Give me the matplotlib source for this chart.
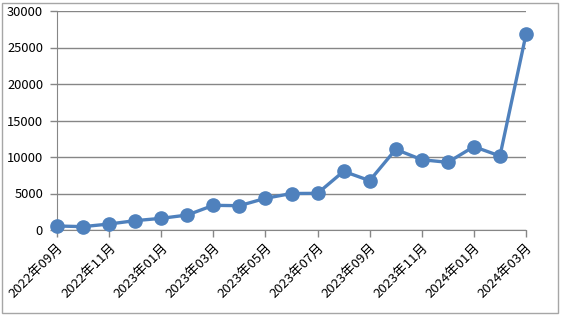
import matplotlib.pyplot as plt
from matplotlib.patches import Rectangle

plt.rcParams['font.family'] = ['Noto Sans CJK JP', 'DejaVu Sans']

## data: monthly values, 2022-09 .. 2024-03
months = ["2022年09月", "2022年10月", "2022年11月", "2022年12月",
          "2023年01月", "2023年02月", "2023年03月", "2023年04月",
          "2023年05月", "2023年06月", "2023年07月", "2023年08月",
          "2023年09月", "2023年10月", "2023年11月", "2023年12月",
          "2024年01月", "2024年02月", "2024年03月"]
values = [550, 460, 820, 1280, 1600, 2050, 3380, 3330, 4340, 5000,
          5020, 8040, 6760, 11050, 9630, 9270, 11420, 10140, 26800]
y_ticks = [0, 5000, 10000, 15000, 20000, 25000, 30000]

fig = plt.figure(figsize=(5.63, 3.16), dpi=100)
ax = fig.add_axes([57 / 563, 1 - 230 / 316, (526 - 57) / 563, (230 - 11) / 316])

x = list(range(len(months)))
ax.plot(x, values, color="#4f81bd", linewidth=2.4, marker="o",
        markersize=9.5, clip_on=False, zorder=3)

ax.set_xlim(0, len(months) - 1)
ax.set_ylim(0, 30000)
ax.set_yticks(y_ticks)
ax.set_yticklabels([str(v) for v in y_ticks], fontsize=9.3)
ax.set_xticks(x[::2])
ax.set_xticklabels(months[::2], rotation=45, ha="right", va="top",
                   rotation_mode="anchor", fontsize=9.5)

grid_col = "#868686"
ax.grid(axis="y", color=grid_col, linewidth=1)
ax.set_axisbelow(True)
for side in ["top", "right"]:
    ax.spines[side].set_visible(False)
ax.spines["left"].set_color(grid_col)
ax.spines["bottom"].set_color(grid_col)
ax.tick_params(axis="both", color=grid_col, length=5, width=1)
ax.tick_params(axis="y", pad=5)
ax.tick_params(axis="x", pad=3)

# chart area border
fig.patches.append(Rectangle((2 / 563, 3 / 316), 556 / 563, 310 / 316,
                             transform=fig.transFigure, fill=False,
                             edgecolor="#a6a6a6", linewidth=1))

fig.savefig("out.png", dpi=100)
